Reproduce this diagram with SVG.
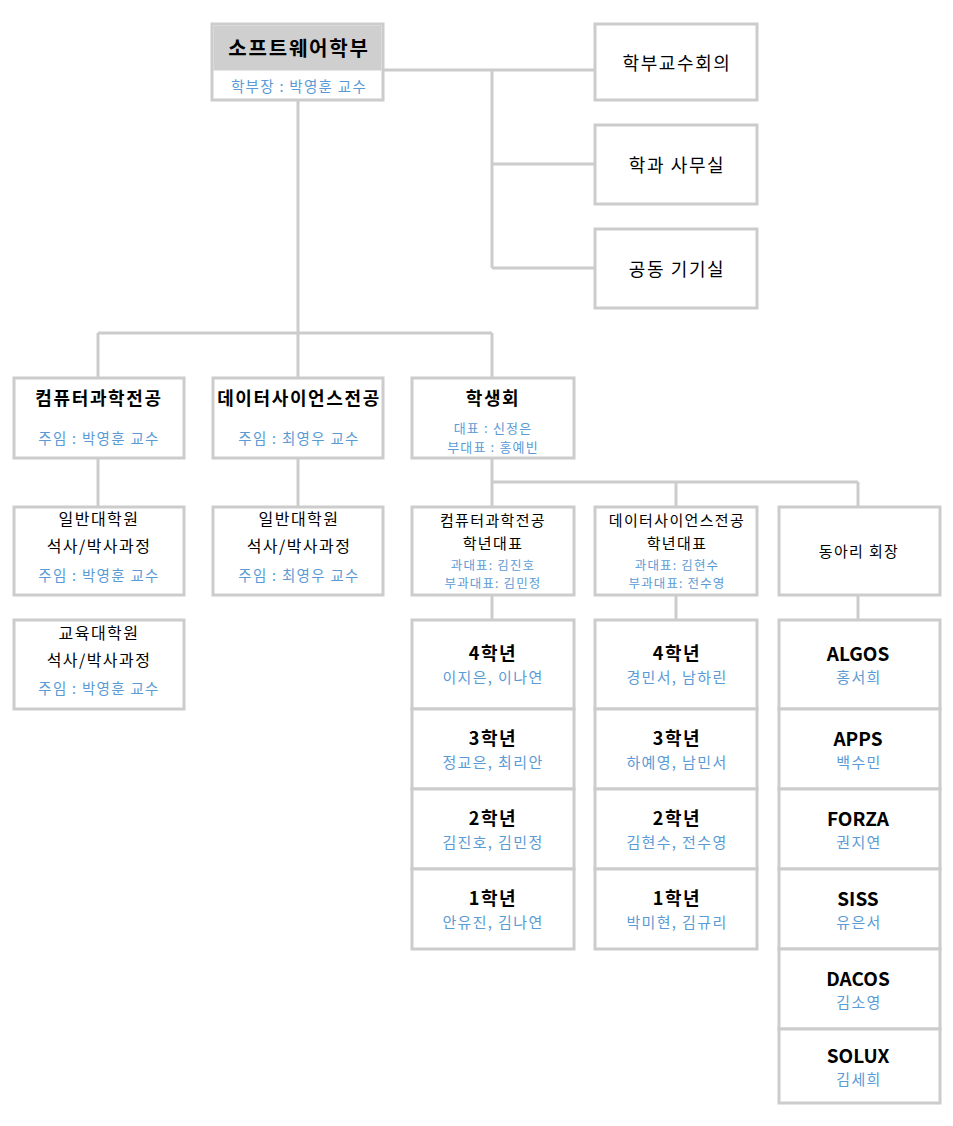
<svg xmlns="http://www.w3.org/2000/svg" width="953" height="1126" viewBox="0 0 953 1126">
<style>
rect.b{fill:#fff;stroke:#cccccc;stroke-width:3}
.c line{stroke:#cccccc;stroke-width:3}
text{font-family:"Malgun Gothic","Noto Sans CJK KR",sans-serif;text-anchor:middle;dominant-baseline:central;letter-spacing:0.09em}
.t{font-weight:bold;fill:#000}
.s{fill:#5b9bd5}
.n{fill:#000}
.l{letter-spacing:0}
</style>
<rect width="953" height="1126" fill="#fff"/>
<g class="c">
<line x1="383" y1="70" x2="594" y2="70"/>
<line x1="492" y1="70" x2="492" y2="268"/>
<line x1="492" y1="164" x2="594" y2="164"/>
<line x1="492" y1="268" x2="594" y2="268"/>
<line x1="298" y1="100" x2="298" y2="378"/>
<line x1="98" y1="333" x2="492" y2="333"/>
<line x1="98" y1="333" x2="98" y2="378"/>
<line x1="492" y1="333" x2="492" y2="378"/>
<line x1="98" y1="458" x2="98" y2="506"/>
<line x1="298" y1="458" x2="298" y2="506"/>
<line x1="492" y1="458" x2="492" y2="506"/>
<line x1="492" y1="482" x2="858" y2="482"/>
<line x1="676" y1="482" x2="676" y2="506"/>
<line x1="858" y1="482" x2="858" y2="506"/>
<line x1="492" y1="595" x2="492" y2="619"/>
<line x1="676" y1="595" x2="676" y2="619"/>
<line x1="858" y1="595" x2="858" y2="619"/>
</g>
<g id="root">
<rect class="b" x="212" y="24" width="171" height="76"/>
<rect x="213.5" y="25.5" width="168" height="45" fill="#cfcfcf"/>
<text class="t" x="299" y="47" font-size="20">소프트웨어학부</text>
<text class="s" x="299" y="85" font-size="14.5">학부장 : 박영훈 교수</text>
</g>
<g id="faculty"><rect class="b" x="595" y="24" width="162" height="76"/><text class="n" x="677" y="62" font-size="18">학부교수회의</text></g>
<g id="office"><rect class="b" x="595" y="125" width="162" height="79"/><text class="n" x="677" y="164" font-size="18">학과 사무실</text></g>
<g id="lab"><rect class="b" x="595" y="229" width="162" height="79"/><text class="n" x="677" y="268" font-size="18">공동 기기실</text></g>

<g id="cs"><rect class="b" x="14" y="378" width="170" height="80"/><text class="t" x="99" y="397" font-size="18">컴퓨터과학전공</text><text class="s" x="99" y="437" font-size="14.5">주임 : 박영훈 교수</text></g>
<g id="ds"><rect class="b" x="213" y="378" width="170" height="80"/><text class="t" x="299" y="397" font-size="18">데이터사이언스전공</text><text class="s" x="299" y="437" font-size="14.5">주임 : 최영우 교수</text></g>
<g id="council"><rect class="b" x="412" y="378" width="162" height="80"/><text class="t" x="493" y="397" font-size="18">학생회</text><text class="s" x="493" y="427" font-size="13">대표 : 신정은</text><text class="s" x="493" y="446" font-size="13">부대표 : 홍예빈</text></g>

<g id="cs-grad"><rect class="b" x="14" y="507" width="170" height="88"/><text class="n" x="99" y="518" font-size="16">일반대학원</text><text class="n" x="99" y="545" font-size="16">석사/박사과정</text><text class="s" x="99" y="574" font-size="14.5">주임 : 박영훈 교수</text></g>
<g id="cs-edu"><rect class="b" x="14" y="620" width="170" height="89"/><text class="n" x="99" y="632" font-size="16">교육대학원</text><text class="n" x="99" y="659" font-size="16">석사/박사과정</text><text class="s" x="99" y="687" font-size="14.5">주임 : 박영훈 교수</text></g>
<g id="ds-grad"><rect class="b" x="213" y="507" width="170" height="88"/><text class="n" x="299" y="518" font-size="16">일반대학원</text><text class="n" x="299" y="545" font-size="16">석사/박사과정</text><text class="s" x="299" y="574" font-size="14.5">주임 : 최영우 교수</text></g>

<g id="cs-rep"><rect class="b" x="412" y="507" width="162" height="88"/><text class="n" x="493" y="519" font-size="15">컴퓨터과학전공</text><text class="n" x="493" y="542" font-size="15">학년대표</text><text class="s" x="493" y="564" font-size="12.5">과대표: 김진호</text><text class="s" x="493" y="582" font-size="12.5">부과대표: 김민정</text></g>
<g id="ds-rep"><rect class="b" x="595" y="507" width="162" height="88"/><text class="n" x="677" y="519" font-size="15">데이터사이언스전공</text><text class="n" x="677" y="542" font-size="15">학년대표</text><text class="s" x="677" y="564" font-size="12.5">과대표: 김현수</text><text class="s" x="677" y="582" font-size="12.5">부과대표: 전수영</text></g>
<g id="club"><rect class="b" x="779" y="507" width="161" height="88"/><text class="n" x="859" y="550" font-size="15">동아리 회장</text></g>

<g id="cs4"><rect class="b" x="412" y="620" width="162" height="89"/><text class="t" x="493" y="652" font-size="18">4학년</text><text class="s" x="493" y="676" font-size="15">이지은, 이나연</text></g>
<g id="cs3"><rect class="b" x="412" y="709" width="162" height="80"/><text class="t" x="493" y="737" font-size="18">3학년</text><text class="s" x="493" y="761" font-size="15">정교은, 최리안</text></g>
<g id="cs2"><rect class="b" x="412" y="789" width="162" height="80"/><text class="t" x="493" y="817" font-size="18">2학년</text><text class="s" x="493" y="841" font-size="15">김진호, 김민정</text></g>
<g id="cs1"><rect class="b" x="412" y="869" width="162" height="80"/><text class="t" x="493" y="897" font-size="18">1학년</text><text class="s" x="493" y="921" font-size="15">안유진, 김나연</text></g>

<g id="ds4"><rect class="b" x="595" y="620" width="162" height="89"/><text class="t" x="677" y="652" font-size="18">4학년</text><text class="s" x="677" y="676" font-size="15">경민서, 남하린</text></g>
<g id="ds3"><rect class="b" x="595" y="709" width="162" height="80"/><text class="t" x="677" y="737" font-size="18">3학년</text><text class="s" x="677" y="761" font-size="15">하예영, 남민서</text></g>
<g id="ds2"><rect class="b" x="595" y="789" width="162" height="80"/><text class="t" x="677" y="817" font-size="18">2학년</text><text class="s" x="677" y="841" font-size="15">김현수, 전수영</text></g>
<g id="ds1"><rect class="b" x="595" y="869" width="162" height="80"/><text class="t" x="677" y="897" font-size="18">1학년</text><text class="s" x="677" y="921" font-size="15">박미현, 김규리</text></g>

<g id="algos"><rect class="b" x="779" y="620" width="161" height="89"/><text class="t l" x="858" y="652" font-size="19">ALGOS</text><text class="s" x="859" y="676" font-size="15">홍서희</text></g>
<g id="apps"><rect class="b" x="779" y="709" width="161" height="80"/><text class="t l" x="858" y="737" font-size="19">APPS</text><text class="s" x="859" y="761" font-size="15">백수민</text></g>
<g id="forza"><rect class="b" x="779" y="789" width="161" height="80"/><text class="t l" x="858" y="817" font-size="19">FORZA</text><text class="s" x="859" y="841" font-size="15">권지연</text></g>
<g id="siss"><rect class="b" x="779" y="869" width="161" height="80"/><text class="t l" x="858" y="897" font-size="19">SISS</text><text class="s" x="859" y="921" font-size="15">유은서</text></g>
<g id="dacos"><rect class="b" x="779" y="949" width="161" height="80"/><text class="t l" x="858" y="977" font-size="19">DACOS</text><text class="s" x="859" y="1001" font-size="15">김소영</text></g>
<g id="solux"><rect class="b" x="779" y="1029" width="161" height="74"/><text class="t l" x="858" y="1054" font-size="19">SOLUX</text><text class="s" x="859" y="1078" font-size="15">김세희</text></g>
</svg>
